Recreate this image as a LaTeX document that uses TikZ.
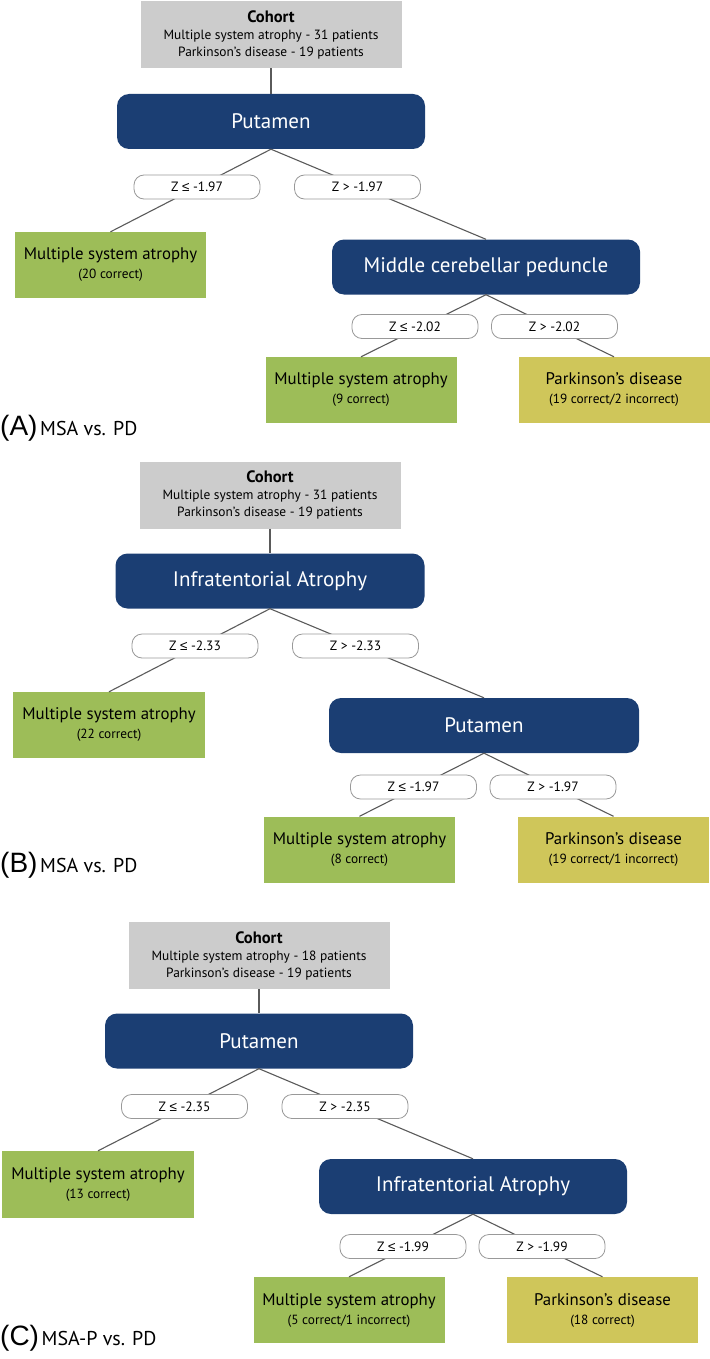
\documentclass[tikz,border=0pt]{standalone}
\usepackage{fontspec}
\setmainfont{PT Sans}
\newfontfamily\panelfont{Liberation Sans}
\newcommand{\leqsym}{{\panelfont ≤}}
\definecolor{navy}{HTML}{1B3E73}
\definecolor{leafgreen}{HTML}{9DBD58}
\definecolor{leafolive}{HTML}{CFC65A}
\definecolor{cohortgray}{HTML}{CCCCCC}
\definecolor{linegray}{HTML}{5A5A5A}
\definecolor{bordergray}{HTML}{999999}
\tikzset{
  cohort/.style={fill=cohortgray, inner sep=0pt, align=center, minimum width=261pt, minimum height=67pt, font=\fontsize{13.4}{17}\selectfont},
  decision/.style={fill=navy, rounded corners=12pt, text=white, inner sep=0pt, minimum height=55pt, minimum width=308pt, font=\fontsize{21}{24}\selectfont},
  cond/.style={draw=bordergray, fill=white, rounded corners=10pt, minimum width=126pt, minimum height=24pt, inner sep=0pt, line width=0.8pt, font=\fontsize{13.5}{14}\selectfont},
  leaf/.style={inner sep=0pt, align=center, minimum width=191pt, minimum height=66pt, font=\fontsize{16.8}{19}\selectfont},
  msa/.style={leaf, fill=leafgreen},
  pd/.style={leaf, fill=leafolive},
  conn/.style={draw=linegray, line width=1.1pt},
  panel/.style={anchor=base west, inner sep=0pt},
}
\newcommand{\cohorttext}[1]{{\fontsize{16.5}{17}\selectfont\bfseries Cohort}\\Multiple system atrophy - #1 patients\\Parkinson’s disease - 19 patients}
\newcommand{\leaftext}[2]{#1\\{\fontsize{13.3}{13}\selectfont (#2)}}
\begin{document}
\begin{tikzpicture}[x=1pt,y=-1pt]
\useasboundingbox (0,0) rectangle (709,1359);
% ---------- Panel A ----------
\node[cohort] (cohA) at (271,34.5) {\cohorttext{31}};
\node[decision] (putA) at (271,121.5) {Putamen};
\node[msa] (lfA1) at (110.5,265) {\leaftext{Multiple system atrophy}{20 correct}};
\node[decision] (mcpA) at (486,267) {Middle cerebellar peduncle};
\node[msa] (lfA2) at (361,390) {\leaftext{Multiple system atrophy}{9 correct}};
\node[pd] (lfA3) at (614,390) {\leaftext{Parkinson’s disease}{19 correct/2 incorrect}};
\draw[conn] (cohA.south) -- (putA.north);
\draw[conn] (putA.south) -- (lfA1.north);
\draw[conn] (putA.south) -- (mcpA.north);
\draw[conn] (mcpA.south) -- (lfA2.north);
\draw[conn] (mcpA.south) -- (lfA3.north);
\node[cond] (cA1) at (197,187) {Z \leqsym\ -1.97};
\node[cond] (cA2) at (357.5,187) {Z > -1.97};
\node[cond] (cA3) at (415,326.5) {Z \leqsym\ -2.02};
\node[cond] (cA4) at (554.5,326.5) {Z > -2.02};
\node[panel] (pA) at (0,435) {{\panelfont\fontsize{28}{28}\selectfont (A)} {\fontsize{20}{20}\selectfont MSA vs. PD}};
% ---------- Panel B ----------
\node[cohort] (cohB) at (270,495) {\cohorttext{31}};
\node[decision, minimum width=309pt] (infB) at (270,581) {Infratentorial Atrophy};
\node[msa, minimum width=192pt] (lfB1) at (109,725) {\leaftext{Multiple system atrophy}{22 correct}};
\node[decision, minimum width=310pt] (putB) at (484,725.5) {Putamen};
\node[msa] (lfB2) at (359.5,849.5) {\leaftext{Multiple system atrophy}{8 correct}};
\node[pd] (lfB3) at (613.5,849.5) {\leaftext{Parkinson’s disease}{19 correct/1 incorrect}};
\draw[conn] (cohB.south) -- (infB.north);
\draw[conn] (infB.south) -- (lfB1.north);
\draw[conn] (infB.south) -- (putB.north);
\draw[conn] (putB.south) -- (lfB2.north);
\draw[conn] (putB.south) -- (lfB3.north);
\node[cond] (cB1) at (195,646) {Z \leqsym\ -2.33};
\node[cond] (cB2) at (355.5,646) {Z > -2.33};
\node[cond] (cB3) at (413.5,787) {Z \leqsym\ -1.97};
\node[cond] (cB4) at (553,787) {Z > -1.97};
\node[panel] (pB) at (0,872) {{\panelfont\fontsize{28}{28}\selectfont (B)} {\fontsize{20}{20}\selectfont MSA vs. PD}};
% ---------- Panel C ----------
\node[cohort] (cohC) at (259,955.5) {\cohorttext{18}};
\node[decision] (putC) at (259,1041) {Putamen};
\node[msa, minimum width=192pt, minimum height=67pt] (lfC1) at (98,1184.5) {\leaftext{Multiple system atrophy}{13 correct}};
\node[decision] (infC) at (473,1186.5) {Infratentorial Atrophy};
\node[msa] (lfC2) at (349,1310) {\leaftext{Multiple system atrophy}{5 correct/1 incorrect}};
\node[pd] (lfC3) at (602.5,1310) {\leaftext{Parkinson’s disease}{18 correct}};
\draw[conn] (cohC.south) -- (putC.north);
\draw[conn] (putC.south) -- (lfC1.north);
\draw[conn] (putC.south) -- (infC.north);
\draw[conn] (infC.south) -- (lfC2.north);
\draw[conn] (infC.south) -- (lfC3.north);
\node[cond] (cC1) at (184.5,1106.5) {Z \leqsym\ -2.35};
\node[cond] (cC2) at (345,1106.5) {Z > -2.35};
\node[cond] (cC3) at (403,1246.5) {Z \leqsym\ -1.99};
\node[cond] (cC4) at (542,1246.5) {Z > -1.99};
\node[panel] (pC) at (0,1345) {{\panelfont\fontsize{28}{28}\selectfont (C)} {\fontsize{20}{20}\selectfont MSA-P vs. PD}};
\end{tikzpicture}
\end{document}
